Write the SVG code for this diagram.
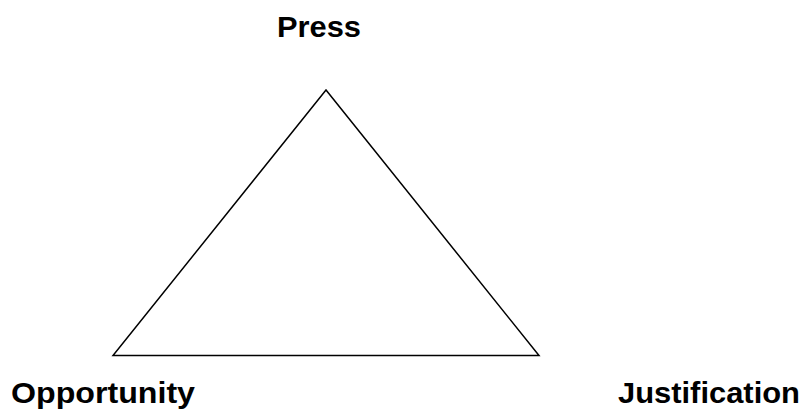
<svg xmlns="http://www.w3.org/2000/svg" width="803" height="412" viewBox="0 0 803 412">
<style>
.lbl{font-family:"Liberation Sans",Arial,sans-serif;font-weight:bold;font-size:30px;fill:#000}
.edge{fill:none;stroke:#000;stroke-width:1.5}
</style>
<rect width="803" height="412" fill="#fff"/>
<g id="connectors">
<polygon class="edge" points="326,90 113,355.5 539,355.5"/>
</g>
<g id="press"><text class="lbl" x="277" y="37" textLength="84" lengthAdjust="spacingAndGlyphs">Press</text></g>
<g id="opportunity"><text class="lbl" x="11" y="403" textLength="184" lengthAdjust="spacingAndGlyphs">Opportunity</text></g>
<g id="justification"><text class="lbl" x="618" y="403" textLength="182" lengthAdjust="spacingAndGlyphs">Justification</text></g>
</svg>
